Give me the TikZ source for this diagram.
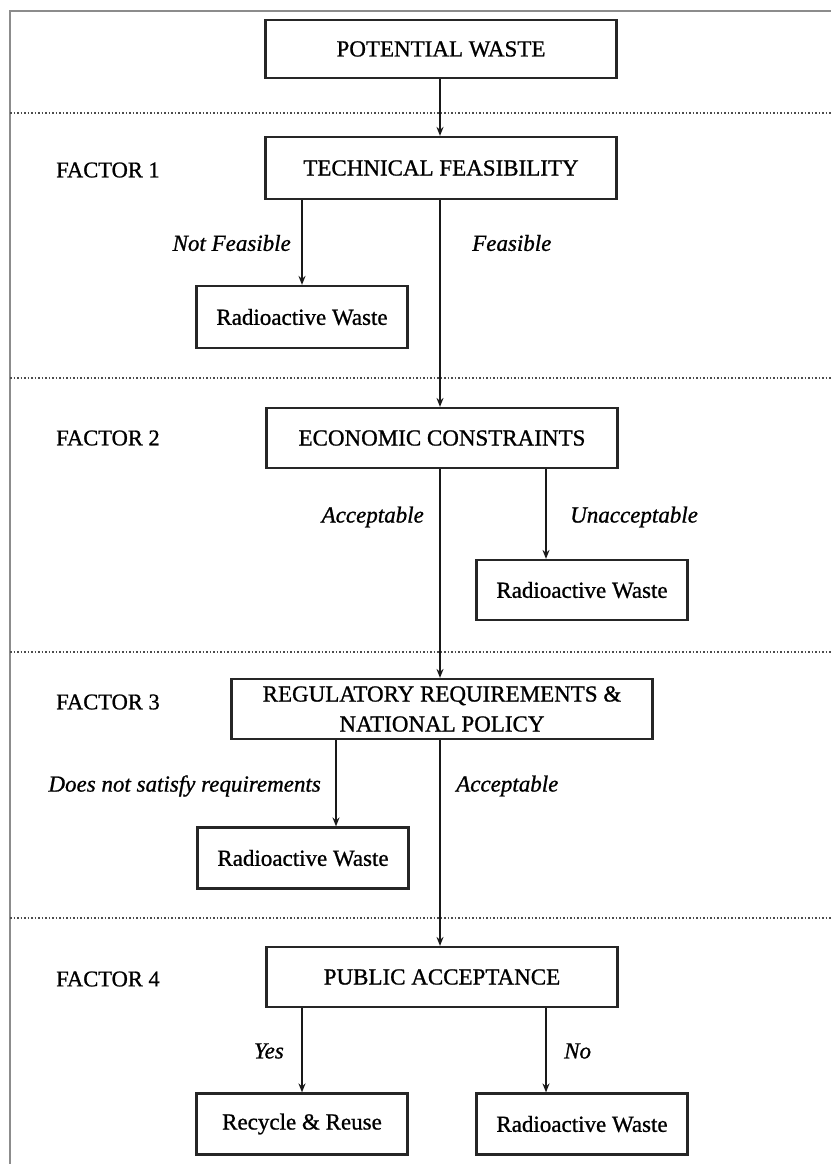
\documentclass[tikz,border=0pt]{standalone}
\usepackage{fontspec}
\setmainfont{Liberation Serif}[UprightFeatures={FakeBold=0.9},ItalicFeatures={FakeBold=0.9}]
\usetikzlibrary{arrows.meta}
\begin{document}
\begin{tikzpicture}[x=1pt,y=-1pt,
  box/.style={draw=black!85,line width=2.2pt,minimum height=60pt,inner sep=0pt,align=center,font=\fontsize{23}{30}\selectfont},
  mainbox/.style={box,minimum width=351pt},
  leafbox/.style={box,minimum width=211pt,minimum height=61pt},
  arr/.style={draw=black!90,line width=1.5pt,-{Stealth[length=9pt,width=7pt]}},
  lbl/.style={font=\fontsize{23}{28}\selectfont\itshape,inner sep=0pt},
  fac/.style={font=\fontsize{22.5}{28}\selectfont,inner sep=0pt,anchor=west},
  sep/.style={draw=black!70,line width=1.5pt,dotted}]
\useasboundingbox (0,0) rectangle (831,1164);
\fill[white] (0,0) rectangle (831,1164);
% frame
\draw[black!45,line width=1.5pt] (10,1164) -- (10,11) -- (831,11);
% separators
\draw[sep] (10,113) -- (831,113);
\draw[sep] (10,378) -- (831,378);
\draw[sep] (10,652) -- (831,652);
\draw[sep] (10,918) -- (831,918);
% main boxes
\node[mainbox,minimum height=58pt] (pw) at (441,49) {POTENTIAL WASTE};
\node[mainbox,minimum height=62pt] (tech) at (441,168) {TECHNICAL FEASIBILITY};
\node[mainbox] (econ) at (442,438) {ECONOMIC CONSTRAINTS};
\node[box,minimum width=421pt,minimum height=60pt] (reg) at (442,709) {REGULATORY REQUIREMENTS \&\\NATIONAL POLICY};
\node[mainbox] (pa) at (442,977) {PUBLIC ACCEPTANCE};
% leaf boxes
\node[leafbox,minimum height=62pt] (rw1) at (302,317) {Radioactive Waste};
\node[leafbox,minimum height=60pt] (rw2) at (582,590) {Radioactive Waste};
\node[leafbox] (rw3) at (303,858) {Radioactive Waste};
\node[leafbox] (rr) at (302,1124) {Recycle \& Reuse};
\node[leafbox] (rw4) at (582,1124) {Radioactive Waste};
% factor labels
\node[fac] (f1) at (56,170) {FACTOR 1};
\node[fac] (f2) at (56,438) {FACTOR 2};
\node[fac] (f3) at (56,702) {FACTOR 3};
\node[fac] (f4) at (56,979) {FACTOR 4};
% spine coordinates
\coordinate (xm) at (440,0);
\coordinate (xr) at (546,0);
\coordinate (x3) at (336,0);
% connectors
\draw[arr] (pw.south -| xm) -- (tech.north -| xm);
\draw[arr] (tech.south -| rw1) -- (rw1.north);
\draw[arr] (tech.south -| xm) -- (econ.north -| xm);
\draw[arr] (econ.south -| xr) -- (rw2.north -| xr);
\draw[arr] (econ.south -| xm) -- (reg.north -| xm);
\draw[arr] (reg.south -| x3) -- (rw3.north -| x3);
\draw[arr] (reg.south -| xm) -- (pa.north -| xm);
\draw[arr] (pa.south -| rr) -- (rr.north);
\draw[arr] (pa.south -| xr) -- (rw4.north -| xr);
% branch labels
\node[lbl,anchor=east] (l1) at (291,243) {Not Feasible};
\node[lbl,anchor=west] (l2) at (472,243) {Feasible};
\node[lbl,anchor=east] (l3) at (424,517) {Acceptable};
\node[lbl,anchor=west] (l4) at (570,517) {Unacceptable};
\node[lbl,anchor=east] (l5) at (321,786) {Does not satisfy requirements};
\node[lbl,anchor=west] (l6) at (456,786) {Acceptable};
\node[lbl,anchor=east] (l7) at (284,1051) {Yes};
\node[lbl,anchor=west] (l8) at (564,1051) {No};
\end{tikzpicture}
\end{document}
